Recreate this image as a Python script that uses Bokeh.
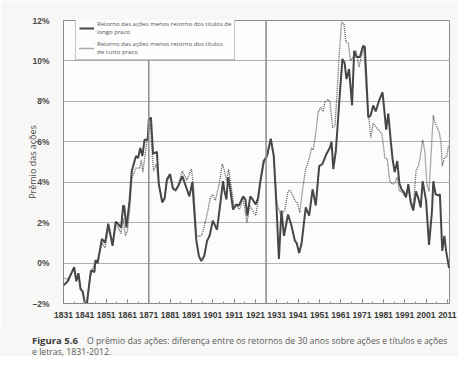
from bokeh.plotting import figure
from bokeh.models import Range1d, FixedTicker, Span, Legend, LegendItem, Div
from bokeh.layouts import column
from bokeh.embed import file_html
from bokeh.resources import INLINE

# Long-term bonds premium (solid)
years_lp = [1831, 1833, 1836, 1837, 1838, 1839, 1840, 1841, 1842, 1843.5, 1844, 1845.5, 1846, 1847,
            1849, 1850.5, 1852, 1854, 1855.5, 1856.5, 1858, 1859, 1859.5, 1860.5, 1862, 1863, 1865,
            1866, 1867, 1868, 1869, 1870.5, 1871, 1872, 1873, 1874.8, 1875.7, 1877.3, 1878.4, 1879.5,
            1881, 1882.3, 1883.6, 1885, 1886.7, 1888.2, 1890, 1891.4, 1893.3, 1894.5, 1895.6, 1897,
            1898.3, 1899.5, 1901, 1903, 1904.6, 1905.8, 1906.5, 1907.4, 1908.2, 1909.2, 1910.5, 1912,
            1913.3, 1915.2, 1916.3, 1917.2, 1918.6, 1919.7, 1921.1, 1922.2, 1923.3, 1924.9, 1926.4,
            1928.2, 1929.6, 1930.9, 1932, 1933.2, 1934.4, 1936.3, 1937.9, 1939.5, 1940.3, 1941.5,
            1942.6, 1944.6, 1946.2, 1947.8, 1949.3, 1950.9, 1952.4, 1954.3, 1955.9, 1956.7, 1957.5,
            1958.7, 1959.8, 1960.9, 1961.8, 1962.8, 1963.7, 1964.9, 1966.3, 1967.3, 1968.4, 1970,
            1971.5, 1972.3, 1973.9, 1975, 1976.2, 1977.4, 1979, 1980.6, 1982.3, 1983.3, 1984.5,
            1985.3, 1986.3, 1987.5, 1988.5, 1989.5, 1990.7, 1991.6, 1992.7, 1993.8, 1995, 1996.3,
            1997.4, 1998.5, 1999.4, 2001, 2002.4, 2003.8, 2004.4, 2005.5, 2006.7, 2007.5, 2008.6,
            2009.6, 2010.4, 2011.8]
premium_lp = [-1.1, -0.9, -0.2, -0.9, -0.5, -1.3, -1.4, -2.0, -2.0, -0.65, -0.35, -0.45, 0.15, 0.0,
              1.2, 1.0, 1.95, 0.85, 2.05, 1.95, 1.75, 2.85, 2.8, 1.75, 3.1, 4.55, 5.3,
              5.2, 5.7, 5.3, 6.1, 6.1, 7.1, 7.2, 5.4, 5.5, 3.9, 3.0, 3.2, 4.15,
              4.4, 3.7, 3.6, 3.85, 4.3, 3.85, 3.3, 4.0, 1.1, 0.35, 0.1, 0.35,
              1.1, 1.35, 2.1, 1.65, 3.0, 4.05, 3.55, 3.15, 4.25, 3.65, 2.65, 2.9,
              2.85, 3.3, 3.15, 2.35, 3.3, 3.15, 2.9, 3.2, 4.05, 5.05, 5.3,
              6.15, 5.3, 2.75, 0.2, 2.6, 1.35, 2.4, 1.85, 1.1, 1.0, 0.5,
              0.95, 2.75, 2.35, 3.65, 2.85, 4.8, 4.9, 5.4, 5.7, 6.0, 4.65,
              5.55, 7.2, 8.85, 10.1, 9.9, 9.1, 9.6, 7.8, 10.5, 10.2, 10.2,
              10.75, 10.7, 7.2, 7.3, 7.8, 7.5, 8.05, 8.45, 6.6, 7.4, 6.0,
              5.15, 4.5, 5.05, 3.95, 3.65, 3.5, 3.25, 3.9, 3.0, 2.6, 3.55,
              3.2, 2.75, 4.05, 3.1, 0.9, 2.6, 4.05, 3.4, 3.35, 3.4, 0.6,
              1.35, 0.6, -0.25]

# Short-term bills premium (dotted)
years_cp = [1831, 1833, 1836, 1837, 1838, 1839, 1840, 1841, 1842, 1843.5, 1844, 1846, 1847,
            1849, 1850.5, 1852, 1854, 1855.5, 1857, 1858, 1859, 1860, 1861, 1862, 1863, 1865,
            1866.7, 1867.5, 1868.2, 1869.3, 1870.6, 1871.7, 1873.2, 1874.5, 1875.7, 1877.3, 1878.4,
            1879.5, 1881, 1882.3, 1883.6, 1885, 1886.7, 1888.8, 1891, 1892, 1893.3, 1894.5, 1896,
            1898, 1899.9, 1901, 1902.2, 1904, 1905.5, 1906.5, 1907.5, 1908.4, 1909.5, 1911, 1912,
            1913.5, 1915.2, 1917, 1918.3, 1919.7, 1921.1, 1922.2, 1923.3, 1924.9, 1926.4, 1928.2,
            1929.6, 1931, 1932.7, 1934.7, 1936.3, 1937.3, 1939.5, 1940.8, 1941.8, 1943.3, 1944.6,
            1946.2, 1947.3, 1948.1, 1949.3, 1950.4, 1951.5, 1952.8, 1953.5, 1955, 1955.9, 1957.2,
            1958.3, 1959.3, 1960.3, 1961.4, 1962.5, 1963.4, 1964.5, 1965.6, 1966.9, 1968.2, 1969.6,
            1970.6, 1971.7, 1973.1, 1974.3, 1975.1, 1976.2, 1977.4, 1979, 1980.3, 1981.7, 1982.8,
            1984, 1985.3, 1986.3, 1987.5, 1988.5, 1989.5, 1991, 1992.7, 1994, 1995, 1996.3, 1997.4,
            1998.2, 1999.4, 2000.4, 2001.4, 2002.4, 2003.8, 2004.4, 2005.3, 2006.3, 2007.2, 2008,
            2008.6, 2009.6, 2010.8, 2011.5]
premium_cp = [-0.75, -0.8, -0.25, -0.85, -0.5, -1.2, -1.5, -1.9, -1.8, -0.7, -0.5, 0.1, 0.1,
              1.0, 0.75, 1.7, 1.0, 1.9, 1.7, 1.45, 2.2, 1.35, 1.6, 2.6, 4.2, 4.7,
              4.7, 5.1, 4.5, 5.4, 6.4, 6.9, 4.55, 4.9, 3.9, 3.05, 3.2,
              4.0, 4.3, 3.65, 3.55, 3.95, 4.55, 4.1, 4.65, 3.75, 1.4, 1.3, 1.4,
              2.25, 3.25, 3.4, 3.1, 3.9, 4.9, 4.55, 4.05, 4.65, 3.9, 2.75, 2.85,
              2.65, 3.2, 2.0, 2.85, 2.6, 2.35, 3.0, 3.9, 4.95, 5.25, 6.1,
              5.25, 3.0, 2.4, 2.6, 3.55, 3.6, 3.1, 2.95, 2.5, 3.8, 4.65,
              5.15, 5.7, 5.6, 6.45, 7.45, 7.7, 7.5, 7.95, 8.1, 8.0, 6.7,
              6.8, 8.45, 10.35, 11.9, 11.85, 10.95, 10.9, 10.0, 10.2, 10.5, 9.7,
              10.2, 10.7, 8.45, 7.05, 6.2, 6.9, 6.75, 6.55, 6.4, 5.2, 5.15,
              4.05, 3.9, 3.95, 4.25, 3.55, 3.55, 3.3, 3.55, 3.1, 2.75, 4.55, 4.8,
              5.2, 6.1, 5.55, 3.9, 3.55, 6.2, 7.3, 6.9, 6.7, 6.45, 6.0,
              4.8, 5.2, 5.3, 5.8]

x_ticks = list(range(1831, 2012, 10))
y_ticks = [-2, 0, 2, 4, 6, 8, 10, 12]
y_tick_labels = ["–2%", "0%", "2%", "4%", "6%", "8%", "10%", "12%"]
regime_breaks = [1871, 1926]
label_lp = "Retorno das ações menos retorno dos títulos de\nlongo prazo"
label_cp = "Retorno das ações menos retorno dos títulos\nde curto prazo"
caption_bold = "Figura 5.6"
caption_1 = "O prêmio das ações: diferença entre os retornos de 30 anos sobre ações e títulos e ações"
caption_2 = "e letras, 1831-2012."

p = figure(width=458, height=330, output_backend="svg", toolbar_location=None,
           x_range=Range1d(1831, 2012), y_range=Range1d(-2, 12),
           min_border_left=63, min_border_right=9, min_border_top=20, min_border_bottom=27,
           background_fill_color="#fcfcfc", border_fill_color="#f7f7f5", margin=0)
p.outline_line_color = "#8a8a8a"
p.outline_line_width = 1

p.xaxis.ticker = FixedTicker(ticks=x_ticks, minor_ticks=list(range(1831, 2013, 5)))
p.xaxis.axis_line_color = "#8a8a8a"
p.xaxis.major_tick_in = 4
p.xaxis.major_tick_out = 0
p.xaxis.minor_tick_in = 2
p.xaxis.minor_tick_out = 0
p.xaxis.major_tick_line_color = "#777"
p.xaxis.minor_tick_line_color = "#999"
p.xaxis.major_label_text_font = "Liberation Sans"
p.xaxis.major_label_text_font_style = "bold"
p.xaxis.major_label_text_font_size = "8.5px"
p.xaxis.major_label_text_color = "#3a3a3a"
p.xaxis.major_label_standoff = 8

p.yaxis.ticker = FixedTicker(ticks=y_ticks)
p.yaxis.major_label_overrides = {t: s for t, s in zip(y_ticks, y_tick_labels)}
p.yaxis.axis_line_color = None
p.yaxis.major_tick_line_color = None
p.yaxis.minor_tick_line_color = None
p.yaxis.major_label_text_font = "Liberation Sans"
p.yaxis.major_label_text_font_style = "bold"
p.yaxis.major_label_text_font_size = "8.5px"
p.yaxis.major_label_text_color = "#4a4a4a"
p.yaxis.major_label_standoff = 8
p.yaxis.axis_label = "Prêmio das ações"
p.yaxis.axis_label_text_font = "Open Sans"
p.yaxis.axis_label_text_font_style = "normal"
p.yaxis.axis_label_text_font_size = "9px"
p.yaxis.axis_label_text_color = "#4a4a4a"
p.yaxis.axis_label_standoff = -10

p.xgrid.visible = False
p.ygrid.grid_line_color = "#b0b0b0"
p.ygrid.grid_line_width = 1.2

for yr in regime_breaks:
    p.add_layout(Span(location=yr, dimension="height", line_color="#8c8c8c", line_width=1.5))

r_cp = p.line(years_cp, premium_cp, line_color="#5a5a5a", line_width=1.3, line_dash="1 1")
r_lp = p.line(years_lp, premium_lp, line_color="#474747", line_width=2.0)

legend = Legend(items=[LegendItem(label=label_lp, renderers=[r_lp]),
                       LegendItem(label=label_cp, renderers=[r_cp])],
                location=(12, 243), margin=0, padding=3, spacing=4,
                glyph_width=15, glyph_height=12, label_standoff=3,
                label_text_font="Open Sans", label_text_font_size="6px",
                label_text_line_height=1.1,
                label_text_color="#555", label_height=12,
                border_line_color="#8a8a8a", border_line_width=1,
                background_fill_color="#fdfdfd", background_fill_alpha=1)
p.add_layout(legend)

caption_html = (
    '<div style="font-family:\'Open Sans\',sans-serif;font-size:8.7px;line-height:11px;'
    'color:#5a5a5a;white-space:nowrap;padding:5px 0 0 32px;">'
    '<span style="display:inline-block;width:55px;font-weight:bold;font-size:9.5px;color:#3a3a3a;">'
    f'{caption_bold}</span>{caption_1}<br>{caption_2}</div>'
)
cap = Div(text=caption_html, width=458, height=26, margin=0,
          styles={"background-color": "#f7f7f5", "overflow": "visible"})

layout = column(p, cap, spacing=0)

open("out.html", "w").write(file_html(layout, INLINE))
